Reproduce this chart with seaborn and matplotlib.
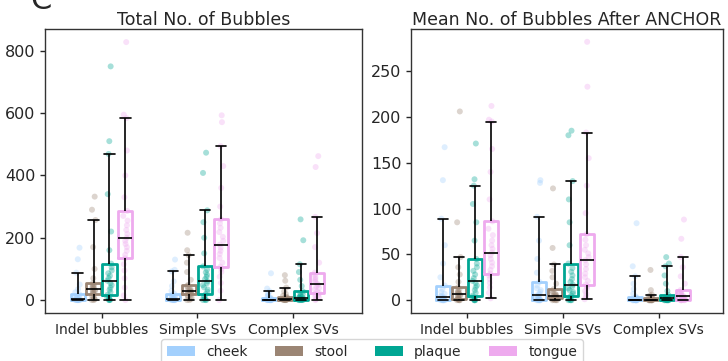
import numpy as np
import pandas as pd
import matplotlib
matplotlib.use('Agg')
import matplotlib.pyplot as plt
import seaborn as sns
from matplotlib.patches import Patch

categories = ['Indel bubbles', 'Simple SVs', 'Complex SVs']
sites = ['cheek', 'stool', 'plaque', 'tongue']
site_colors = ['#a3d0fd', '#9b8574', '#00a693', '#eeaaee']
panel_titles = ['Total No. of Bubbles', 'Mean No. of Bubbles After ANCHOR']
total_yticks = [0, 200, 400, 600, 800]
mean_yticks = [0, 50, 100, 150, 200, 250]

# ---- Total No. of Bubbles ----
total_indel_cheek = [0, 0, 0, 0, 0, 0, 0, 1, 1, 2, 2, 3, 3, 5, 6, 8, 10, 13, 18, 25, 35, 50, 88, 131, 168]
total_indel_stool = [0, 0, 2, 5, 9, 13, 19, 22, 25, 28, 30, 33, 35, 38, 41, 44, 47, 50, 54, 70, 100, 170, 257, 290, 332]
total_indel_plaque = [0, 0, 0, 2, 5, 10, 17, 25, 33, 40, 48, 55, 62, 70, 78, 86, 95, 105, 117, 160, 220, 340, 469, 510, 750]
total_indel_tongue = [0, 15, 40, 70, 95, 115, 134, 145, 158, 170, 180, 190, 200, 212, 225, 240, 255, 270, 286, 330, 400, 480, 584, 595, 828]

total_simple_cheek = [0, 0, 0, 0, 0, 0, 0, 1, 2, 3, 3, 4, 5, 6, 8, 10, 13, 16, 21, 30, 45, 60, 92, 97, 130]
total_simple_stool = [0, 0, 3, 7, 11, 15, 19, 21, 23, 24, 25, 27, 28, 30, 33, 37, 41, 45, 49, 65, 90, 120, 144, 160, 216]
total_simple_plaque = [0, 0, 0, 3, 8, 13, 19, 27, 34, 41, 48, 54, 60, 67, 74, 81, 89, 98, 108, 150, 200, 250, 288, 408, 473]
total_simple_tongue = [0, 30, 55, 75, 90, 100, 107, 120, 135, 148, 158, 168, 178, 190, 203, 218, 232, 246, 259, 300, 360, 430, 494, 571, 593]

total_complex_cheek = [0, 0, 0, 0, 0, 0, 0, 0, 0, 0, 0, 0, 1, 1, 2, 3, 4, 6, 8, 12, 16, 21, 28, 37, 86]
total_complex_stool = [0, 0, 0, 0, 1, 1, 1, 2, 2, 2, 3, 3, 3, 4, 5, 6, 7, 8, 10, 14, 20, 28, 40, 62, 80]
total_complex_plaque = [0, 0, 0, 0, 0, 1, 1, 2, 3, 4, 5, 7, 8, 10, 12, 15, 19, 23, 28, 45, 65, 90, 115, 192, 259]
total_complex_tongue = [0, 3, 8, 12, 16, 19, 22, 28, 34, 39, 44, 49, 53, 58, 63, 68, 74, 81, 88, 120, 170, 215, 267, 427, 462]

# ---- Mean No. of Bubbles After ANCHOR ----
mean_indel_cheek = [0, 0, 0, 0, 0, 0, 0, 1, 1, 2, 2, 3, 3, 4, 5, 7, 9, 12, 16, 25, 40, 60, 89, 131, 167]
mean_indel_stool = [0, 0, 0, 0, 1, 1, 1, 2, 3, 4, 5, 6, 6.5, 7, 8, 9, 10, 12, 14, 20, 28, 36, 47, 85, 206]
mean_indel_plaque = [0, 0, 0, 0, 1, 3, 5, 8, 11, 14, 16, 19, 21, 24, 28, 32, 36, 40, 45, 65, 85, 105, 125, 132, 171]
mean_indel_tongue = [2, 8, 14, 19, 23, 27, 29, 33, 37, 41, 45, 49, 52, 56, 60, 65, 71, 78, 86, 110, 140, 165, 195, 197, 212]

mean_simple_cheek = [0, 0, 0, 0, 0, 0, 0, 1, 2, 3, 4, 5, 5.5, 7, 9, 11, 13, 16, 20, 30, 45, 65, 91, 128, 131]
mean_simple_stool = [0, 0, 0, 0, 1, 1, 2, 2, 3, 3, 4, 4, 4.7, 5, 6, 7, 8, 10, 12, 18, 25, 32, 39, 57, 122]
mean_simple_plaque = [0, 0, 0, 0, 1, 3, 5, 7, 9, 11, 13, 15, 17, 20, 23, 27, 31, 35, 40, 60, 85, 110, 130, 180, 185]
mean_simple_tongue = [1, 4, 7, 10, 13, 15, 17, 21, 25, 29, 34, 39, 43.6, 47, 51, 55, 60, 66, 72, 95, 125, 155, 183, 233, 282]

mean_complex_cheek = [0, 0, 0, 0, 0, 0, 0, 0, 0, 0, 0, 0, 0.5, 1, 1, 2, 2, 3, 4, 7, 12, 18, 26, 37, 84]
mean_complex_stool = [0, 0, 0, 0, 0, 0, 0, 0, 0, 0, 0, 0, 0.5, 1, 1, 1, 1, 2, 2, 3, 4, 5, 6, 11, 33]
mean_complex_plaque = [0, 0, 0, 0, 0, 0, 0, 0, 0, 1, 1, 1, 2, 2, 2, 3, 3, 4, 5.5, 10, 18, 27, 37, 40, 47]
mean_complex_tongue = [0, 0, 0, 0, 0, 0, 0.5, 1, 2, 2, 3, 4, 4.4, 5, 6, 7, 8, 9, 11, 18, 26, 36, 47, 67, 88]

total_groups = [
    [total_indel_cheek, total_indel_stool, total_indel_plaque, total_indel_tongue],
    [total_simple_cheek, total_simple_stool, total_simple_plaque, total_simple_tongue],
    [total_complex_cheek, total_complex_stool, total_complex_plaque, total_complex_tongue],
]
mean_groups = [
    [mean_indel_cheek, mean_indel_stool, mean_indel_plaque, mean_indel_tongue],
    [mean_simple_cheek, mean_simple_stool, mean_simple_plaque, mean_simple_tongue],
    [mean_complex_cheek, mean_complex_stool, mean_complex_plaque, mean_complex_tongue],
]


def make_df(groups):
    rows = []
    for cat, site_lists in zip(categories, groups):
        for site, vals in zip(sites, site_lists):
            for v in vals:
                rows.append((cat, site, v))
    return pd.DataFrame(rows, columns=['category', 'site', 'value'])


sns.set_style('ticks')
plt.rcParams['font.family'] = ['DejaVu Sans']

fig = plt.figure(figsize=(7.28, 3.61), dpi=100)
ax1 = fig.add_axes([45 / 728, 48 / 361, 317 / 728, 284 / 361])
ax2 = fig.add_axes([411 / 728, 48 / 361, 312 / 728, 284 / 361])

BOX_W = 0.667


def draw(ax, df, title, yticks, ylim, xlim):
    np.random.seed(7)
    sns.stripplot(data=df, x='category', y='value', hue='site', order=categories,
                  hue_order=sites, palette=site_colors, dodge=True, jitter=0.12,
                  size=4.3, alpha=0.35, linewidth=0, ax=ax, legend=False, zorder=1)
    for coll in ax.collections:
        off = np.asarray(coll.get_offsets()).copy()
        if len(off):
            c = np.round(off[:, 0])
            off[:, 0] = c + (off[:, 0] - c) * (BOX_W / 0.8)
            coll.set_offsets(off)
    sns.boxplot(data=df, x='category', y='value', hue='site', order=categories,
                hue_order=sites, palette=site_colors, fill=False, width=BOX_W,
                gap=0.12, whis=(0, 95), showfliers=False, linewidth=2,
                ax=ax, legend=False)
    for cont in ax.containers:
        boxes = list(getattr(cont, 'boxes', []))
        caps = list(getattr(cont, 'caps', []))
        for ln in list(getattr(cont, 'whiskers', [])) + caps + list(getattr(cont, 'medians', [])):
            ln.set_color('black')
            ln.set_linewidth(1.2)
            ln.set_zorder(3)
        for i, box in enumerate(boxes):
            xd = np.asarray(box.get_xdata(), dtype=float)
            x0, x1 = xd.min(), xd.max()
            cx, w = (x0 + x1) / 2, (x1 - x0)
            for cap in caps[2 * i:2 * i + 2]:
                cap.set_xdata([cx - 0.36 * w, cx + 0.36 * w])
    ax.set_title(title, fontsize=12.5, pad=3)
    ax.set_xlabel('')
    ax.set_ylabel('')
    ax.set_yticks(yticks)
    ax.set_ylim(*ylim)
    ax.set_xlim(*xlim)
    ax.tick_params(axis='y', labelsize=11.5, length=3.5, width=1)
    ax.tick_params(axis='x', labelsize=10, length=3.5, width=1)
    for sp in ax.spines.values():
        sp.set_linewidth(1.0)
        sp.set_color('#333333')


draw(ax1, make_df(total_groups), panel_titles[0], total_yticks, (-41.5, 870), (-0.59, 2.72))
draw(ax2, make_df(mean_groups), panel_titles[1], mean_yticks, (-14, 296), (-0.58, 2.67))

handles = [Patch(facecolor=c, edgecolor='none', label=s) for s, c in zip(sites, site_colors)]
fig.legend(handles=handles, loc='upper center', bbox_to_anchor=(0.511, 0.08), ncol=4,
           fontsize=10, frameon=True, columnspacing=2.0)

fig.text(30 / 728, 1 - 9 / 361, 'C', fontsize=22, va='baseline', ha='left')

fig.savefig('out.png', dpi=100)
